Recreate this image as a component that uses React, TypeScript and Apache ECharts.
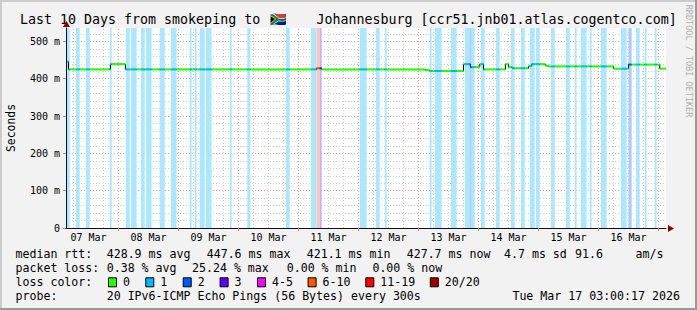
import React, { useEffect, useRef } from 'react';
import * as echarts from 'echarts';

const FONT = '"DejaVu Sans Mono", monospace';

// ---------- data (times are "DD HH:MM" in March 2026) ----------
const startTime = '07 03:00';
const endTime = '17 03:00';
const dayLabels = ['07 Mar', '08 Mar', '09 Mar', '10 Mar', '11 Mar', '12 Mar', '13 Mar', '14 Mar', '15 Mar', '16 Mar'];
const yMax = 536; // ms
const yMajor = 100;
const yMinor = 20;

// median rtt (ms) step changes: [time, value]
const medianSteps: [string, number][] = [
  ['07 03:00', 446],
  ['07 04:00', 425],
  ['07 20:45', 439],
  ['08 02:45', 425],
  ['11 07:15', 428],
  ['11 09:15', 425],
  ['13 02:45', 423],
  ['13 04:30', 421],
  ['13 18:00', 439],
  ['13 20:45', 431],
  ['14 00:30', 439],
  ['14 02:00', 425],
  ['14 10:45', 439],
  ['14 12:00', 431],
  ['14 13:30', 428],
  ['14 20:00', 434],
  ['14 21:15', 439],
  ['15 02:45', 435],
  ['15 04:00', 433],
  ['16 06:00', 427],
  ['16 12:00', 438],
  ['17 00:30', 427],
];

// packet loss periods: [start, end, loss class index]
const lossBands: [string, string, number][] = [
  ['07 03:00', '07 04:30', 1],
  ['07 07:00', '07 08:30', 1],
  ['07 11:00', '07 12:30', 1],
  ['07 20:30', '07 21:15', 1],
  ['08 03:00', '08 04:30', 1],
  ['08 05:00', '08 07:15', 1],
  ['08 09:00', '08 10:30', 1],
  ['08 11:00', '08 13:15', 1],
  ['08 16:30', '08 18:30', 1],
  ['08 21:00', '08 23:15', 1],
  ['09 04:30', '09 05:15', 1],
  ['09 06:30', '09 07:15', 1],
  ['09 08:30', '09 10:30', 1],
  ['09 11:00', '09 13:15', 1],
  ['09 20:30', '09 21:15', 1],
  ['10 03:30', '10 04:45', 1],
  ['10 19:00', '10 20:30', 1],
  ['11 05:00', '11 07:15', 1],
  ['11 07:15', '11 08:30', 5],
  ['11 08:30', '11 09:15', 3],
  ['12 00:30', '12 03:15', 1],
  ['12 07:00', '12 08:30', 1],
  ['12 10:30', '12 11:15', 1],
  ['13 04:30', '13 05:15', 1],
  ['13 06:30', '13 09:15', 1],
  ['13 13:00', '13 15:15', 1],
  ['13 18:30', '13 20:30', 1],
  ['13 20:30', '13 21:15', 2],
  ['13 21:15', '13 22:30', 1],
  ['14 01:00', '14 02:30', 1],
  ['14 07:00', '14 08:30', 1],
  ['14 13:00', '14 14:30', 1],
  ['14 17:00', '14 18:30', 1],
  ['14 20:30', '14 22:30', 1],
  ['14 23:00', '15 00:30', 1],
  ['15 05:00', '15 06:30', 1],
  ['15 11:00', '15 12:30', 1],
  ['15 14:30', '15 15:15', 1],
  ['15 17:00', '15 19:15', 1],
  ['15 20:30', '15 21:15', 1],
  ['16 01:00', '16 03:15', 1],
  ['16 09:00', '16 11:15', 1],
  ['16 12:00', '16 13:15', 2],
  ['16 15:00', '16 16:30', 1],
  ['16 18:30', '16 19:15', 1],
  ['16 22:30', '16 23:15', 1],
];

const lossClasses = ['0', '1', '2', '3', '4-5', '6-10', '11-19', '20/20'];
const lossColors = ['#26ff00', '#00b8ff', '#0059ff', '#5e00ff', '#ff00ff', '#ff5500', '#ff0000', '#a10000'];

const rttValues = [428.9, 447.6, 421.1, 427.7];
const rttNames = ['avg', 'max', 'min', 'now'];
const rttSd = 4.7;
const rttAmS = 91.6;
const lossValues = [0.38, 25.24, 0.0, 0.0];
const lossNames = ['avg', 'max', 'min', 'now'];
const probeText = '20 IPv6-ICMP Echo Pings (56 Bytes) every 300s';
const stampText = 'Tue Mar 17 03:00:17 2026';

// ---------- helpers ----------
function h(s: string): number {
  const [d, hm] = s.split(' ');
  const [hh, mm] = hm.split(':').map(Number);
  return (Number(d) - 7) * 24 + hh + mm / 60;
}
function lighten(hex: string, a: number): string {
  const n = parseInt(hex.slice(1), 16);
  const r = (n >> 16) & 255, g = (n >> 8) & 255, b = n & 255;
  const m = (c: number) => Math.round(255 - (255 - c) * a);
  return `rgb(${m(r)},${m(g)},${m(b)})`;
}

const T0 = h(startTime);
const T1 = h(endTime);
const steps = medianSteps.map(([t, v]) => [h(t), v] as [number, number]);
const bands = lossBands.map(([s, e, c]) => [h(s), h(e), c] as [number, number, number]);

const stepLine = [...steps, [T1, steps[steps.length - 1][1]]];

const cutSet = new Set<number>([T0, T1]);
steps.forEach((s) => cutSet.add(s[0]));
bands.forEach((b) => { cutSet.add(b[0]); cutSet.add(b[1]); });
const cuts = [...cutSet].filter((t) => t >= T0 && t <= T1).sort((a, b) => a - b);
const segments: number[][] = [];
for (let i = 0; i < cuts.length - 1; i++) {
  const a = cuts[i], b = cuts[i + 1], mid = (a + b) / 2;
  let v = steps[0][1];
  for (const s of steps) if (s[0] <= mid) v = s[1];
  let c = 0;
  for (const bd of bands) if (bd[0] <= mid && mid < bd[1]) c = bd[2];
  segments.push([a, b, v, c]);
}

const dayTicks: number[] = [];
for (let t = 24; t < T1; t += 24) if (t > T0) dayTicks.push(t);
const noonTicks = dayLabels.map((_, i) => i * 24 + 12);
const GRID_GRAY = '#cfcfcf';
const GRID_RED = '#eea0a0';
const gridLines: any[] = [];
for (let t = 6; t < T1; t += 6) {
  if (t <= T0) continue;
  const major = t % 24 === 0;
  gridLines.push({
    xAxis: t,
    lineStyle: { color: major ? GRID_RED : GRID_GRAY, type: [1, 2], width: 1 },
  });
}

function buildOption() {
  const graphic: any[] = [];
  const txt = (x: number, y: number, text: string, extra: any = {}) =>
    graphic.push({
      type: 'text', x, y, silent: true,
      style: { text, fill: '#000', font: `11.6px ${FONT}`, textVerticalAlign: 'middle', textAlign: 'left', ...extra },
    });

  // frame
  graphic.push({ type: 'rect', shape: { x: 0, y: 0, width: 697, height: 2 }, style: { fill: '#cbcbcb' }, silent: true });
  graphic.push({ type: 'rect', shape: { x: 0, y: 0, width: 2, height: 310 }, style: { fill: '#cbcbcb' }, silent: true });
  graphic.push({ type: 'rect', shape: { x: 0, y: 308, width: 697, height: 2 }, style: { fill: '#999999' }, silent: true });
  graphic.push({ type: 'rect', shape: { x: 695, y: 0, width: 2, height: 310 }, style: { fill: '#999999' }, silent: true });

  // title
  const tf = `13.3px ${FONT}`;
  txt(20, 19, 'Last 10 Days from smokeping to ', { font: tf });
  txt(270, 19, '\u{1F1FF}\u{1F1E6}', { font: tf });
  txt(308.4, 19, ' Johannesburg [ccr51.jnb01.atlas.cogentco.com]', { font: tf });

  // side labels
  graphic.push({
    type: 'text', x: 11, y: 128, rotation: Math.PI / 2, silent: true,
    style: { text: 'Seconds', fill: '#000', font: `11.4px ${FONT}`, textAlign: 'center', textVerticalAlign: 'middle' },
  });
  graphic.push({
    type: 'text', x: 688.5, y: 61, rotation: -Math.PI / 2, silent: true,
    style: { text: 'RRDTOOL / TOBI OETIKER', fill: '#b0b0b0', font: `8.5px ${FONT}`, textAlign: 'center', textVerticalAlign: 'middle' },
  });

  // arrows
  graphic.push({ type: 'polygon', silent: true, shape: { points: [[668, 225], [674, 228.5], [668, 232]] }, style: { fill: '#8b0000' } });
  graphic.push({ type: 'polygon', silent: true, shape: { points: [[63, 27], [66.5, 21], [70, 27]] }, style: { fill: '#8b0000' } });

  // legend rows
  const y1 = 254.3, y2 = 268.3, y3 = 282.3, y4 = 296;
  txt(15.5, y1, 'median rtt:');
  const rttX = [106.7, 206.7, 306.7, 406.7];
  rttValues.forEach((v, i) => txt(rttX[i], y1, `${v.toFixed(1)} ms ${rttNames[i]}`));
  txt(504, y1, `${rttSd.toFixed(1)} ms sd`);
  txt(575, y1, `${rttAmS.toFixed(1)}`);
  txt(635.6, y1, 'am/s');

  txt(15.5, y2, 'packet loss:');
  const lossX = [106.7, 192, 286.7, 372.4];
  lossValues.forEach((v, i) => txt(lossX[i], y2, `${v.toFixed(2)} % ${lossNames[i]}`));

  txt(15.5, y3, 'loss color:');
  const swX = [108, 145.3, 182.7, 219.6, 257, 307.6, 365.3, 429.8];
  lossClasses.forEach((c, i) => {
    graphic.push({
      type: 'rect', silent: true,
      shape: { x: swX[i] + 0.5, y: y3 - 4.5, width: 8, height: 9 },
      style: { fill: lossColors[i], stroke: '#000', lineWidth: 1 },
    });
    txt(swX[i] + 15, y3, c);
  });

  txt(15.5, y4, 'probe:');
  txt(106.7, y4, probeText);
  txt(512.4, y4, stampText);

  return {
    animation: false,
    backgroundColor: 'transparent',
    grid: { left: 66, top: 28, width: 600, height: 200, show: true, backgroundColor: '#ffffff', borderWidth: 0 },
    xAxis: {
      type: 'value', min: T0, max: T1, z: 10,
      axisLine: { show: true, lineStyle: { color: '#111', width: 1 } },
      axisTick: { show: true, customValues: dayTicks, length: 3, lineStyle: { color: '#e08080' } },
      axisLabel: {
        show: true, customValues: noonTicks,
        formatter: (v: number) => dayLabels[Math.round((v - 12) / 24)] ?? '',
        fontSize: 10, color: '#000', fontFamily: FONT, margin: 4,
      },
      splitLine: { show: false },
      minorSplitLine: { show: false },
    },
    yAxis: [
      {
        type: 'value', min: 0, max: yMax, interval: yMinor, position: 'left',
        axisLine: { show: false }, axisTick: { show: false }, axisLabel: { show: false },
        splitLine: { show: true, showMinLine: false, showMaxLine: false, lineStyle: { color: GRID_GRAY, type: [1, 2], width: 1 } },
      },
      {
        type: 'value', min: 0, max: yMax, interval: yMajor, position: 'left',
        axisLine: { show: false },
        axisTick: { show: true, length: 3, lineStyle: { color: '#e08080' } },
        axisLabel: {
          show: true, showMaxLabel: false,
          formatter: (v: number) => (v === 0 ? '0' : `${v} m`),
          fontSize: 10, color: '#000', fontFamily: FONT, margin: 6,
        },
        splitLine: { show: true, showMinLine: false, showMaxLine: false, lineStyle: { color: GRID_RED, type: [1, 2], width: 1 } },
      },
      {
        type: 'value', min: 0, max: yMax, position: 'left', z: 10,
        axisLine: { show: true, lineStyle: { color: '#111', width: 1 } },
        axisTick: { show: false }, axisLabel: { show: false }, splitLine: { show: false },
      },
    ],
    series: [
      {
        type: 'line', xAxisIndex: 0, yAxisIndex: 0, data: stepLine, z: 1, silent: true,
        symbol: 'none', lineStyle: { opacity: 0, width: 0 },
        markLine: { z: 1, silent: true, symbol: ['none', 'none'], label: { show: false }, animation: false, data: gridLines },
      },
      {
        type: 'line', xAxisIndex: 0, yAxisIndex: 0, data: stepLine, z: 2, silent: true,
        symbol: 'none', lineStyle: { opacity: 0, width: 0 },
        markArea: {
          z: 2, silent: true, animation: false,
          data: bands.map(([s, e, c]) => [
            { xAxis: s, itemStyle: { color: lighten(lossColors[c], 0.33), opacity: 1 } },
            { xAxis: e },
          ]),
        },
      },
      {
        type: 'line', xAxisIndex: 0, yAxisIndex: 0, data: stepLine, step: 'end', z: 3, silent: true,
        symbol: 'none', lineStyle: { color: '#000', width: 1 },
      },
      {
        type: 'custom', xAxisIndex: 0, yAxisIndex: 0, z: 4, silent: true,
        data: segments,
        encode: { x: [0, 1], y: 2 },
        renderItem: (_p: any, api: any) => {
          const a = api.coord([api.value(0), api.value(2)]);
          const b = api.coord([api.value(1), api.value(2)]);
          return {
            type: 'line',
            shape: { x1: a[0], y1: a[1], x2: b[0], y2: b[1] },
            style: { stroke: lossColors[api.value(3)], lineWidth: 2 },
          };
        },
      },
    ],
    graphic,
  };
}

export default function App() {
  const ref = useRef<HTMLDivElement>(null);
  useEffect(() => {
    if (!ref.current) return;
    const chart = echarts.init(ref.current, null, { renderer: 'svg' });
    chart.setOption(buildOption() as any);
    return () => chart.dispose();
  }, []);
  return (
    <div
      ref={ref}
      style={{ position: 'absolute', left: 0, top: 0, width: 697, height: 310, background: '#f2f2f2' }}
    />
  );
}
